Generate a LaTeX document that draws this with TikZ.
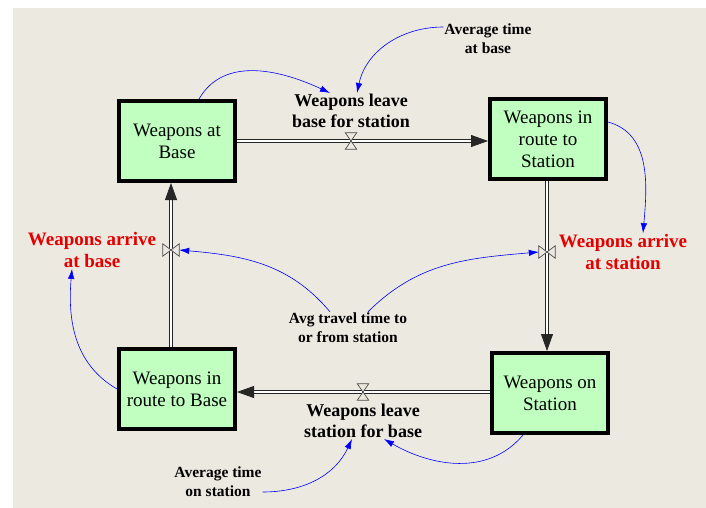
\documentclass[tikz,border=0pt]{standalone}
\usepackage{fontspec}
\setmainfont{Liberation Serif}
\newfontfamily\diagfont{Liberation Serif}
\usetikzlibrary{arrows.meta,positioning,calc}
\definecolor{paper}{RGB}{236,233,224}
\definecolor{stockgreen}{RGB}{192,255,192}
\definecolor{arrivered}{RGB}{228,0,0}
\definecolor{linkblue}{RGB}{0,0,255}

\tikzset{
  stock/.style={draw=black,line width=4pt,fill=stockgreen,minimum width=116pt,minimum height=80pt,
    inner sep=2pt,align=center,font=\diagfont\fontsize{19}{22}\selectfont},
  rate/.style={font=\diagfont\fontsize{18}{21}\selectfont\bfseries,align=center,inner sep=1pt},
  raterd/.style={font=\diagfont\fontsize{19}{22}\selectfont\bfseries,text=arrivered,align=center,inner sep=1pt},
  aux/.style={font=\diagfont\fontsize{15.5}{19}\selectfont\bfseries,align=center,inner sep=1pt},
  pipe/.style={draw=black!85,line width=0.8pt,double=white,double distance=1.6pt,
    -{Triangle[length=17pt,width=12pt]}},
  valveline/.style={draw=black!70,fill=paper,line width=0.7pt},
  link/.style={draw=linkblue,line width=0.6pt,-{Latex[length=10pt,width=6.5pt]}}
}

\begin{document}
\begin{tikzpicture}[x=1pt,y=-1pt]
  \useasboundingbox (0,0) rectangle (706,508);
  \fill[white] (0,0) rectangle (706,508);
  \fill[paper] (13,8) rectangle (706,508);

  \foreach \n/\x/\y/\t in {
    base/177/141/{Weapons at\\Base},
    toStn/548/139/{Weapons in\\route to\\Station},
    onStn/550/393/{Weapons on\\Station},
    toBase/177/389/{Weapons in\\route to Base}}
  {
    \node[stock] (\n) at (\x,\y) {\t};
  }

  \node[inner sep=0pt,minimum width=11pt,minimum height=16pt] (vTop) at (351,141) {};
  \node[inner sep=0pt,minimum width=11pt,minimum height=16pt] (vBot) at (363,392) {};
  \node[inner sep=0pt,minimum width=16pt,minimum height=12pt] (vStn) at (547,252) {};
  \node[inner sep=0pt,minimum width=16pt,minimum height=12pt] (vBase) at (171,250) {};

  \draw[pipe] (base.east |- vTop) -- (toStn.west |- vTop);
  \draw[pipe] (toStn.south -| vStn) -- (onStn.north -| vStn);
  \draw[pipe] (onStn.west |- vBot) -- (toBase.east |- vBot);
  \draw[pipe] (toBase.north -| vBase) -- (base.south -| vBase);

  \foreach \v in {vTop,vBot}
    \draw[valveline] (\v.north west) -- (\v.north east) -- (\v.south west) -- (\v.south east) -- cycle;
  \foreach \v in {vStn,vBase}
    \draw[valveline] (\v.north west) -- (\v.south west) -- (\v.north east) -- (\v.south east) -- cycle;

  \node[rate] (leaveBase) at (351,111) {Weapons leave\\base for station};
  \node[rate] (leaveStn) at (363,421) {Weapons leave\\station for base};
  \node[raterd] (arriveStn) at (623,252) {Weapons arrive\\at station};
  \node[raterd] (arriveBase) at (92,250) {Weapons arrive\\at base};
  \node[aux] (avgBase) at (488,39) {Average time\\at base};
  \node[aux] (avgStn) at (218,482) {Average time\\on station};
  \node[aux] (avgTravel) at (348,328) {Avg travel time to\\or from station};

  \draw[link] ([xshift=22pt]base.north) to[out=60,in=155] ([xshift=-21pt]leaveBase.north);
  \draw[link] ([yshift=12pt]avgBase.west) to[out=180,in=78] ([xshift=6pt]leaveBase.north);
  \draw[link] ([yshift=17pt]toStn.east) to[out=-15,in=85] ([xshift=20pt]arriveStn.north);
  \draw[link] ([xshift=20pt]avgTravel.north) to[out=45,in=185] (vStn.west);
  \draw[link] ([xshift=-18pt]avgTravel.north) to[out=130,in=-5] (vBase.east);
  \draw[link] (toBase.west) to[out=150,in=-95] ([xshift=-20pt]arriveBase.south);
  \draw[link] ([xshift=-27pt]onStn.south) to[out=-130,in=-30] ([xshift=21pt]leaveStn.south);
  \draw[link] ([yshift=-10pt]avgStn.east) to[out=0,in=-115] ([xshift=-11pt]leaveStn.south);
\end{tikzpicture}
\end{document}
